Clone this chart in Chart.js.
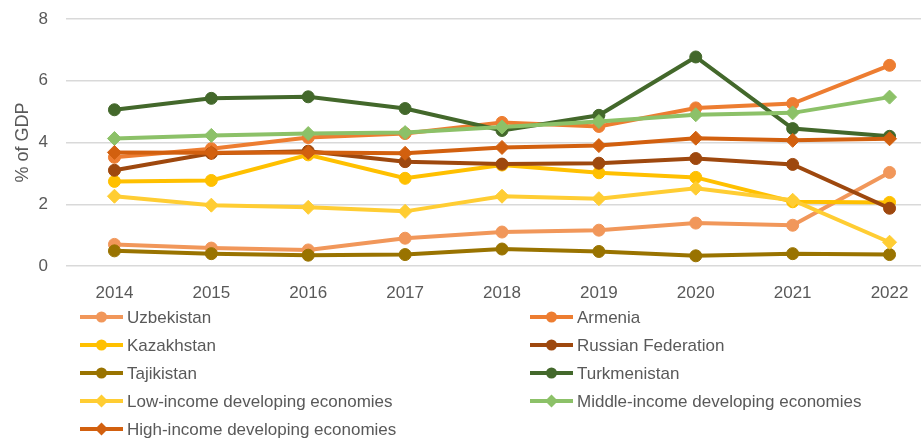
<!DOCTYPE html>
<html>
<head>
<meta charset="utf-8">
<script src="https://cdn.jsdelivr.net/npm/chart.js@4"></script>
<style>
  html, body { margin: 0; padding: 0; background: #fff; overflow: hidden; }
  #wrap { width: 946px; height: 439px; }
</style>
</head>
<body>
<div id="wrap"><canvas id="c" width="946" height="439"></canvas></div>
<script>
// données (% du PIB)
const years = ["2014", "2015", "2016", "2017", "2018", "2019", "2020", "2021", "2022"];
const yTicks = [0, 2, 4, 6, 8];

const uzbekistan   = [0.70, 0.58, 0.52, 0.90, 1.10, 1.16, 1.39, 1.32, 3.03];
const armenia      = [3.52, 3.80, 4.16, 4.29, 4.65, 4.52, 5.12, 5.26, 6.50];
const kazakhstan   = [2.74, 2.77, 3.60, 2.84, 3.27, 3.02, 2.87, 2.08, 2.06];
const russia       = [3.10, 3.65, 3.72, 3.38, 3.30, 3.33, 3.48, 3.29, 1.87];
const tajikistan   = [0.49, 0.40, 0.35, 0.37, 0.55, 0.47, 0.33, 0.40, 0.37];
const turkmenistan = [5.06, 5.43, 5.48, 5.10, 4.39, 4.88, 6.77, 4.45, 4.20];
const lowIncome    = [2.26, 1.97, 1.90, 1.77, 2.26, 2.18, 2.52, 2.13, 0.77];
const middleIncome = [4.13, 4.23, 4.29, 4.32, 4.50, 4.68, 4.90, 4.96, 5.47];
const highIncome   = [3.68, 3.67, 3.68, 3.65, 3.84, 3.90, 4.14, 4.07, 4.12];

const seriesNames = [
  "Uzbekistan", "Armenia", "Kazakhstan", "Russian Federation", "Tajikistan",
  "Turkmenistan", "Low-income developing economies",
  "Middle-income developing economies", "High-income developing economies"
];
const seriesData = [uzbekistan, armenia, kazakhstan, russia, tajikistan,
  turkmenistan, lowIncome, middleIncome, highIncome];
const seriesColors = ["#F1975A", "#ED7D31", "#FFC000", "#9E480E", "#997300",
  "#43682B", "#FFCD33", "#8CC168", "#D2600F"];
const seriesMarkers = ["circle", "circle", "circle", "circle", "circle",
  "circle", "rectRot", "rectRot", "rectRot"];

const FONT = "'Liberation Sans', Arial, sans-serif";
const GREY = "#595959";

const datasets = seriesNames.map((name, i) => ({
  label: name,
  data: seriesData[i],
  borderColor: seriesColors[i],
  backgroundColor: seriesColors[i],
  pointBackgroundColor: seriesColors[i],
  pointBorderColor: seriesColors[i],
  pointStyle: seriesMarkers[i],
  pointRadius: seriesMarkers[i] === "circle" ? 6 : 7,
  pointBorderWidth: 1,
  borderWidth: 4,
  tension: 0,
  fill: false,
  order: seriesNames.length - i, // les dernières séries passent dessus
}));

// légende sur deux colonnes, dessinée dans le canvas
const legendPlugin = {
  id: "legendDeux",
  afterDraw(chart) {
    const ctx = chart.ctx;
    ctx.save();
    ctx.font = "17px " + FONT;
    ctx.textBaseline = "middle";
    ctx.fillStyle = GREY;
    chart.data.datasets.forEach((ds, i) => {
      const col = i % 2;
      const row = Math.floor(i / 2);
      const x0 = col === 0 ? 80 : 530;
      const y = 317 + row * 28;
      ctx.strokeStyle = ds.borderColor;
      ctx.lineWidth = 4;
      ctx.beginPath();
      ctx.moveTo(x0, y);
      ctx.lineTo(x0 + 43, y);
      ctx.stroke();
      ctx.fillStyle = ds.borderColor;
      const cx = x0 + 21.5;
      ctx.beginPath();
      if (ds.pointStyle === "circle") {
        ctx.arc(cx, y, 5.5, 0, Math.PI * 2);
      } else {
        ctx.moveTo(cx, y - 6.5);
        ctx.lineTo(cx + 6.5, y);
        ctx.lineTo(cx, y + 6.5);
        ctx.lineTo(cx - 6.5, y);
        ctx.closePath();
      }
      ctx.fill();
      ctx.fillStyle = GREY;
      ctx.fillText(ds.label, x0 + 47, y + 1);
    });
    ctx.restore();
  },
};

new Chart(document.getElementById("c"), {
  type: "line",
  data: { labels: years, datasets: datasets },
  plugins: [legendPlugin],
  options: {
    responsive: false,
    animation: false,
    layout: { padding: { top: 19, right: 0, bottom: 133, left: 0 } },
    plugins: {
      legend: { display: false },
      tooltip: { enabled: false },
    },
    scales: {
      x: {
        offset: true,
        grid: { display: false, drawTicks: false },
        border: { display: false },
        ticks: { color: GREY, font: { family: FONT, size: 17 }, padding: 17, maxRotation: 0 },
        afterFit: (s) => {
          s.height = 40;
          s.paddingLeft = 0;
          s.paddingRight = 0;
        },
      },
      y: {
        min: 0,
        max: 8,
        afterBuildTicks: (s) => { s.ticks = yTicks.map((v) => ({ value: v })); },
        grid: { color: "#D9D9D9", lineWidth: 1.5, drawTicks: false },
        border: { display: false },
        ticks: { color: GREY, font: { family: FONT, size: 17 }, padding: 18 },
        title: {
          display: true,
          text: "% of GDP",
          color: GREY,
          font: { family: FONT, size: 18 },
          padding: { top: 12, bottom: 0 },
        },
        afterFit: (s) => {
          s.width = 66;
          s.paddingTop = 0;
          s.paddingBottom = 0;
        },
      },
    },
  },
});
</script>
</body>
</html>
